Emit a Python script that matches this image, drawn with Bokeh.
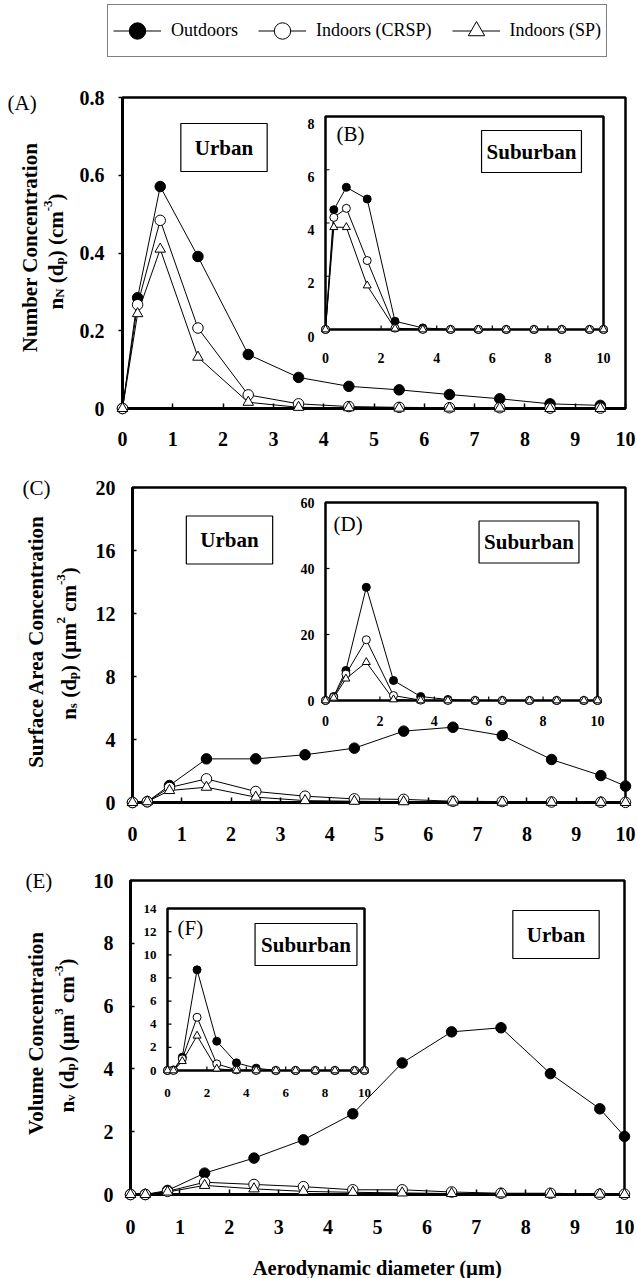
import math
from bokeh.plotting import figure
from bokeh.models import Range1d, FixedTicker, Label, Legend, LegendItem, NumeralTickFormatter
from bokeh.layouts import column, row
from bokeh.embed import file_html
from bokeh.resources import INLINE
from bokeh.core.properties import value

# ---------------- data ----------------
series_names = ["Outdoors", "Indoors (CRSP)", "Indoors (SP)"]

# aerodynamic diameter (µm)
diam_a = [0, 0.3, 0.75, 1.5, 2.5, 3.5, 4.5, 5.5, 6.5, 7.5, 8.5, 9.5]
diam = [0, 0.3, 0.75, 1.5, 2.5, 3.5, 4.5, 5.5, 6.5, 7.5, 8.5, 9.5, 10]

# (A) urban number concentration
num_urban_out = [0, 0.285, 0.571, 0.391, 0.139, 0.080, 0.057, 0.048, 0.036, 0.025, 0.012, 0.008]
num_urban_crsp = [0, 0.267, 0.484, 0.207, 0.035, 0.012, 0.005, 0.003, 0.002, 0.002, 0.001, 0.001]
num_urban_sp = [0, 0.244, 0.410, 0.132, 0.016, 0.003, 0.002, 0.001, 0.001, 0.001, 0.0, 0.0]

# (B) suburban number concentration
num_sub_out = [0, 4.5, 5.34, 4.9, 0.31, 0.06, 0, 0, 0, 0, 0, 0, 0]
num_sub_crsp = [0, 4.21, 4.55, 2.59, 0.05, 0, 0, 0, 0, 0, 0, 0, 0]
num_sub_sp = [0, 3.84, 3.84, 1.65, 0.03, 0, 0, 0, 0, 0, 0, 0, 0]

# (C) urban surface area concentration
sur_urban_out = [0, 0.05, 1.08, 2.77, 2.77, 3.03, 3.45, 4.53, 4.78, 4.25, 2.73, 1.71, 1.04]
sur_urban_crsp = [0, 0.05, 0.95, 1.50, 0.70, 0.40, 0.23, 0.20, 0.08, 0.06, 0.03, 0.02, 0.01]
sur_urban_sp = [0, 0.05, 0.76, 0.97, 0.34, 0.12, 0.08, 0.05, 0.03, 0.02, 0.01, 0.01, 0.0]

# (D) suburban surface area concentration
sur_sub_out = [0, 1.2, 9.1, 34.3, 6.06, 1.2, 0.3, 0, 0, 0, 0, 0, 0]
sur_sub_crsp = [0, 1.0, 8.0, 18.4, 1.5, 0.1, 0, 0, 0, 0, 0, 0, 0]
sur_sub_sp = [0, 0.8, 6.6, 11.6, 0.3, 0, 0, 0, 0, 0, 0, 0, 0]

# (E) urban volume concentration
vol_urban_out = [0, 0, 0.13, 0.68, 1.16, 1.74, 2.57, 4.19, 5.18, 5.31, 3.85, 2.73, 1.85]
vol_urban_crsp = [0, 0, 0.10, 0.39, 0.32, 0.25, 0.15, 0.15, 0.08, 0.04, 0.04, 0.01, 0.01]
vol_urban_sp = [0, 0, 0.08, 0.29, 0.18, 0.10, 0.07, 0.05, 0.03, 0.02, 0.01, 0.01, 0.0]

# (F) suburban volume concentration
vol_sub_out = [0, 0.05, 1.15, 8.7, 2.53, 0.66, 0.2, 0, 0, 0, 0, 0, 0]
vol_sub_crsp = [0, 0, 1.0, 4.6, 0.57, 0.05, 0, 0, 0, 0, 0, 0, 0]
vol_sub_sp = [0, 0, 0.8, 3.0, 0.15, 0, 0, 0, 0, 0, 0, 0, 0]

x_ticks_main = [0, 1, 2, 3, 4, 5, 6, 7, 8, 9, 10]
y_ticks_a = [0, 0.2, 0.4, 0.6, 0.8]
y_ticks_c = [0, 4, 8, 12, 16, 20]
y_ticks_e = [0, 2, 4, 6, 8, 10]
x_ticks_inset = [0, 2, 4, 6, 8, 10]
y_ticks_b = [0, 2, 4, 6, 8]
y_ticks_d = [0, 20, 40, 60]
y_ticks_f = [0, 2, 4, 6, 8, 10, 12, 14]

x_title = "Aerodynamic diameter (\u00b5m)"

# ---------------- styling ----------------
SERIF = "Liberation Serif"
W = 637

# Times/Liberation Serif Bold advance widths (per 1000 em) for label composition
TB = {"n": 556, "N": 722, "d": 556, "p": 556, "c": 444, "m": 833, "s": 389,
      "v": 500, "(": 333, ")": 333, "-": 333, "2": 500, "3": 500, "\u00b5": 556, " ": 250}


def tw(s, size):
    return sum(TB.get(ch, 500) for ch in s) * size / 1000.0


STYLES = [
    dict(marker="circle", fill_color="black"),
    dict(marker="circle", fill_color="white"),
    dict(marker="triangle", fill_color="white"),
]


def blank_fig(width, height):
    f = figure(width=width, height=height, x_range=Range1d(0, 1), y_range=Range1d(0, 1),
               min_border=0, output_backend="svg", toolbar_location=None,
               x_axis_location=None, y_axis_location=None, frame_align=False)
    f.grid.visible = False
    f.outline_line_color = None
    f.background_fill_color = "white"
    f.border_fill_color = "white"
    return f


def make_panel(width, height, left, right, top, bottom, y_max, y_ticks, x_stand, y_stand,
               y_in, y_out, fmt=None):
    p = figure(width=width, height=height, x_range=Range1d(0, 10), y_range=Range1d(0, y_max),
               min_border_left=left, min_border_right=right, min_border_top=top,
               min_border_bottom=bottom, output_backend="svg", toolbar_location=None,
               frame_align=False)
    p.grid.visible = False
    p.background_fill_color = "white"
    p.border_fill_color = "white"
    p.outline_line_color = "black"
    p.outline_line_width = 2.5
    xa = p.xaxis[0]
    xa.ticker = FixedTicker(ticks=x_ticks_main)
    xa.minor_tick_line_color = None
    xa.major_tick_in = 5
    xa.major_tick_out = 0
    xa.major_tick_line_width = 1.5
    xa.axis_line_width = 3
    xa.major_label_standoff = x_stand
    xa.major_label_text_font = SERIF
    xa.major_label_text_font_style = "bold"
    xa.major_label_text_font_size = "20px"
    xa.major_label_text_color = "black"
    ya = p.yaxis[0]
    ya.ticker = FixedTicker(ticks=y_ticks)
    if fmt:
        ya.formatter = NumeralTickFormatter(format=fmt)
    ya.minor_tick_line_color = None
    ya.major_tick_in = y_in
    ya.major_tick_out = y_out
    ya.major_tick_line_width = 1.5
    ya.axis_line_width = 3
    ya.major_label_standoff = y_stand
    ya.major_label_text_font = SERIF
    ya.major_label_text_font_style = "bold"
    ya.major_label_text_font_size = "20px"
    ya.major_label_text_color = "black"
    return p


def draw_series(p, xs, series, size, rng=None, level=None):
    kw = dict(x_range_name=rng, y_range_name=rng) if rng else {}
    for ys in series:
        p.line(xs, ys, line_color="black", line_width=1, **kw)
    for ys, st in zip(series, STYLES):
        r = p.scatter(xs, ys, marker=st["marker"], size=size, fill_color=st["fill_color"],
                      line_color="black", line_width=1, **kw)
        if level:
            r.level = level


def add_inset(p, fw, fh, name, box, y_max, y_ticks, xs, series, fsize, xlab_dy, ylab_dy, msize):
    x_max = 10
    l, r, b, t = box
    kx = (r - l) / x_max
    ky = (t - b) / y_max
    p.extra_x_ranges[name] = Range1d(-l / kx, x_max + (fw - r) / kx)
    p.extra_y_ranges[name] = Range1d(-b / ky, y_max + (fh - t) / ky)
    kw = dict(x_range_name=name, y_range_name=name)
    p.quad(left=[0], right=[x_max], bottom=[0], top=[y_max], fill_color="white",
           line_color="black", line_width=2.5, **kw)
    xt_in = x_ticks_inset[1:-1]
    yt_in = y_ticks[1:-1]
    p.segment(x0=xt_in, y0=[0] * len(xt_in), x1=xt_in, y1=[4 / ky] * len(xt_in),
              line_color="black", line_width=1.2, **kw)
    p.segment(x0=[0] * len(yt_in), y0=yt_in, x1=[4 / kx] * len(yt_in), y1=yt_in,
              line_color="black", line_width=1.2, **kw)
    p.text(x=x_ticks_inset, y=[0] * len(x_ticks_inset), text=[str(v) for v in x_ticks_inset],
           y_offset=xlab_dy, text_align="center", text_baseline="middle",
           text_font=value(SERIF), text_font_style="bold", text_font_size=value(fsize),
           text_color="black", **kw)
    p.text(x=[0] * len(y_ticks), y=y_ticks, text=[str(v) for v in y_ticks],
           x_offset=-11, y_offset=ylab_dy, text_align="right", text_baseline="middle",
           text_font=value(SERIF), text_font_style="bold", text_font_size=value(fsize),
           text_color="black", **kw)
    draw_series(p, xs, series, msize, rng=name)


def screen_label(p, x, y, text, size="21px", style="bold", align="center", baseline="middle",
                 angle=0.0, box=None):
    kw = {}
    if box:
        kw = dict(border_line_color="black", border_line_width=1.2,
                  background_fill_color="white", padding=box)
    lab = Label(x=x, y=y, x_units="screen", y_units="screen", text=text, angle=angle,
                text_font=SERIF, text_font_style=style, text_font_size=size,
                text_align=align, text_baseline=baseline, text_color="black", **kw)
    p.add_layout(lab)


def title_strip(width, height, page_top, tag, tag_x, tag_y, line1, x1, y1, pieces, x2, y2):
    """Rotated two-line axis title and panel tag; positions given in page pixels."""
    f = blank_fig(width, height)
    bottom = page_top + height
    screen_label(f, tag_x, bottom - tag_y, tag, style="normal", align="left")
    screen_label(f, x1, bottom - y1, line1, size="21px", align="center", baseline="alphabetic",
                 angle=math.pi / 2)
    big, small = 21, 13
    total = 0.0
    for t, k in pieces:
        total += tw(t, big if k in ("n", "gap") else small)
    y = (bottom - y2) - total / 2
    for t, k in pieces:
        sz = big if k in ("n", "gap") else small
        if k != "gap":
            dx = {"n": 0, "sub": 4, "sup": -8}[k]
            screen_label(f, x2 + dx, y, t, size="%dpx" % sz, align="left",
                         baseline="alphabetic", angle=math.pi / 2)
        y += tw(t, sz)
    return f


# ---------------- legend strip ----------------
leg = blank_fig(W, 62)
items = []
for name, st, ys in zip(series_names, STYLES, [num_urban_out, num_urban_crsp, num_urban_sp]):
    rl = leg.line(x=diam_a, y=ys, line_color="black", line_width=1, visible=False)
    rs = leg.scatter(x=diam_a, y=ys, marker=st["marker"], fill_color=st["fill_color"],
                     line_color="black", line_width=1, size=10, visible=False)
    items.append(LegendItem(label=name, renderers=[rl, rs]))
legend = Legend(items=items, orientation="horizontal", location=(107, 5), glyph_width=48,
                glyph_height=41, label_standoff=10, spacing=20, padding=5, margin=0,
                border_line_color="black", border_line_width=1.2,
                inactive_fill_alpha=0.0, click_policy="none",
                label_text_font=SERIF, label_text_font_size="18px", label_text_color="black")
leg.add_layout(legend)

# ---------------- panel A / B ----------------
TA = 75
pa = make_panel(W - TA, 408, 122 - TA, 12, 35, 62, 0.8, y_ticks_a, 23, 14, 0, 4, fmt="0.[0]")
add_inset(pa, 503, 311, "b", (203, 481, 79, 292), 8, y_ticks_b, diam,
          [num_sub_out, num_sub_crsp, num_sub_sp], "14px", 28, 7, 8)
draw_series(pa, diam_a, [num_urban_out, num_urban_crsp, num_urban_sp], 10.5, level="overlay")
screen_label(pa, 101.5, 261, "Urban", box=dict(left=14, right=14, top=12, bottom=12))
screen_label(pa, 214, 275, "(B)", style="normal", align="left")
screen_label(pa, 409, 257, "Suburban", box=dict(left=5, right=5, top=9, bottom=9))
ta = title_strip(TA, 408, 62, "(A)", 7, 102, "Number Concentration", 29, 247,
                 [("n", "n"), ("N", "sub"), (" ", "gap"), ("(d", "n"), ("p", "sub"), (")", "n"),
                  (" ", "gap"), ("(cm", "n"), ("-3", "sup"), (")", "n")],
                 55, 251)

# ---------------- panel C / D ----------------
TC = 90
pc = make_panel(W - TC, 392, 132 - TC, 12, 17, 60, 20, y_ticks_c, 24, 17, 4, 0)
add_inset(pc, 493, 315, "d", (193, 465, 102, 300), 60, y_ticks_d, diam,
          [sur_sub_out, sur_sub_crsp, sur_sub_sp], "14px", 20, 0, 8)
draw_series(pc, diam, [sur_urban_out, sur_urban_crsp, sur_urban_sp], 10.5, level="overlay")
screen_label(pc, 97, 262.5, "Urban", box=dict(left=14, right=14, top=12, bottom=12))
screen_label(pc, 201, 279, "(D)", style="normal", align="left")
screen_label(pc, 396.5, 260.5, "Suburban", box=dict(left=5, right=5, top=9, bottom=9))
tc = title_strip(TC, 392, 470, "(C)", 22, 487, "Surface Area Concentration", 35, 641,
                 [("n", "n"), ("s", "sub"), (" ", "gap"), ("(d", "n"), ("p", "sub"), (")", "n"),
                  (" ", "gap"), ("(\u00b5m", "n"), ("2", "sup"), (" ", "gap"), ("cm", "n"),
                  ("-3", "sup"), (")", "n")],
                 68, 643)

# ---------------- panel E / F ----------------
TE = 90
EH = 386
pe = make_panel(W - TE, EH, 130 - TE, 13, 18, 54, 10, y_ticks_e, 25, 17, 4, 0)
add_inset(pe, 494, 314, "f", (37, 234, 124, 286), 14, y_ticks_f, diam,
          [vol_sub_out, vol_sub_crsp, vol_sub_sp], "13px", 22, 0, 8)
draw_series(pe, diam, [vol_urban_out, vol_urban_crsp, vol_urban_sp], 10.5, level="overlay")
screen_label(pe, 425.5, 260, "Urban", box=dict(left=14, right=14, top=12, bottom=12))
screen_label(pe, 47, 267, "(F)", style="normal", align="left")
screen_label(pe, 175.5, 250, "Suburban", box=dict(left=6, right=6, top=9, bottom=9))
te = title_strip(TE, EH, 862, "(E)", 25, 880, "Volume Concentration", 35, 1033,
                 [("n", "n"), ("v", "sub"), (" ", "gap"), ("(d", "n"), ("p", "sub"), (")", "n"),
                  (" ", "gap"), ("(\u00b5m", "n"), ("3", "sup"), (" ", "gap"), ("cm", "n"),
                  ("-3", "sup"), (")", "n")],
                 66, 1035)

# x-axis title strip under panel E
xl = blank_fig(W, 1278 - 862 - EH)
screen_label(xl, 377, 11, x_title, size="20.5px", align="center", baseline="middle")

layout = column(leg, row(ta, pa, spacing=0), row(tc, pc, spacing=0), row(te, pe, spacing=0),
                xl, spacing=0)
open("out.html", "w").write(file_html(layout, INLINE))
